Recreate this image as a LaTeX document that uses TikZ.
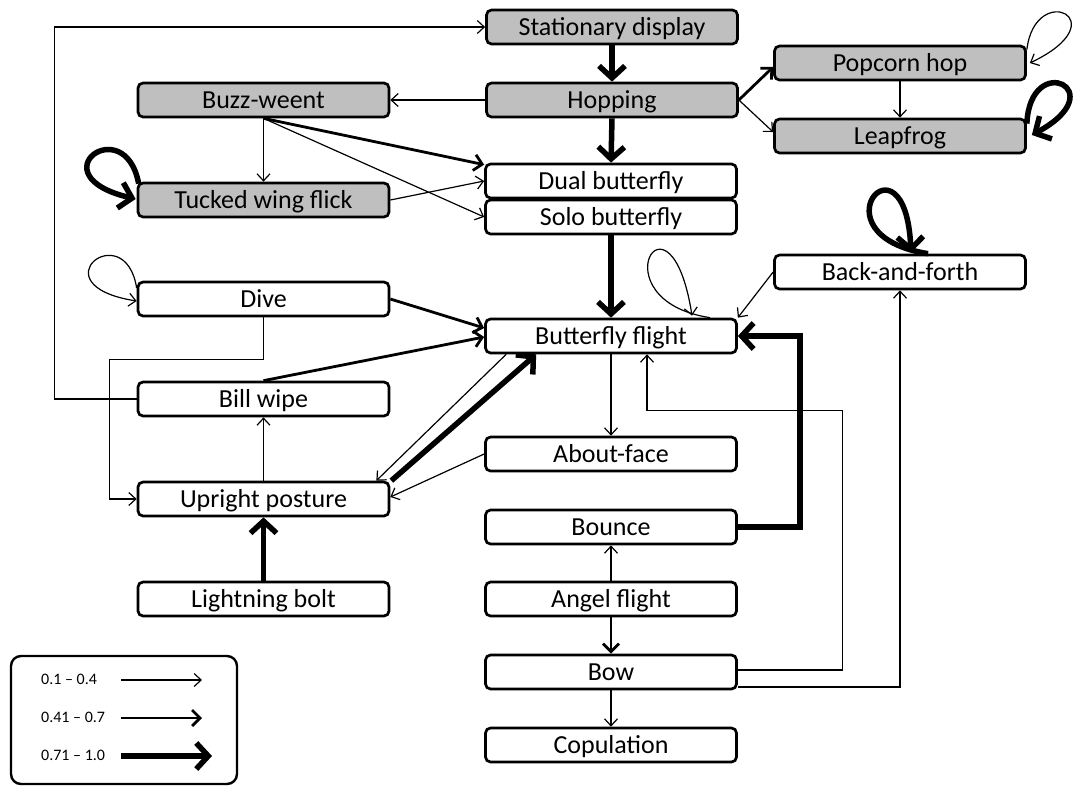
\documentclass[tikz,border=0pt]{standalone}
\usepackage{fontspec}
\setmainfont{Carlito}
\usetikzlibrary{arrows.meta,calc}
\definecolor{boxgrey}{RGB}{191,191,191}
\begin{document}
\begin{tikzpicture}[x=1pt,y=-1pt,
  box/.style={draw=black,line width=2.7pt,rounded corners=5pt,minimum width=251pt,minimum height=34pt,inner sep=0pt,text height=16.6pt,text depth=0pt,font=\fontsize{26}{30}\selectfont,fill=white},
  gbox/.style={box,fill=boxgrey},
  thinar/.style={line width=1.2pt,-{Straight Barb[length=7pt,width=13pt]}},
  medar/.style={line width=2.8pt,-{Straight Barb[length=8pt,width=16pt]}},
  thickar/.style={line width=5.5pt,-{Straight Barb[length=12pt,width=26pt]}},
  legtext/.style={anchor=west,inner sep=0pt,font=\fontsize{16}{19}\selectfont}
]
\useasboundingbox (0,0) rectangle (1078,788);

% nodes
\node[gbox] (sd) at (612,27) {Stationary display};
\node[gbox] (hop) at (612,100) {Hopping};
\node[gbox] (buzz) at (263.5,100) {Buzz-weent};
\node[gbox] (pop) at (900,63) {Popcorn hop};
\node[gbox] (leap) at (900,136) {Leapfrog};
\node[box] (dual) at (611,181) {Dual butterfly};
\node[box] (solo) at (611,217) {Solo butterfly};
\node[gbox] (tuck) at (263.5,200) {Tucked wing flick};
\node[box] (baf) at (900,272) {Back-and-forth};
\node[box] (dive) at (263.5,299) {Dive};
\node[box] (bfl) at (611,336) {Butterfly flight};
\node[box] (bill) at (263.5,399) {Bill wipe};
\node[box] (about) at (611,454) {About-face};
\node[box] (up) at (263.5,499) {Upright posture};
\node[box] (bounce) at (611,527) {Bounce};
\node[box] (angel) at (611,599) {Angel flight};
\node[box] (light) at (263.5,599) {Lightning bolt};
\node[box] (bow) at (611,672) {Bow};
\node[box] (cop) at (611,745) {Copulation};

% straight edges
\draw[thickar] (sd.south) -- (hop.north);
\draw[thickar] (hop.south) -- (dual.north);
\draw[thickar] (solo.south) -- (bfl.north);
\draw[thickar] (light.north) -- (up.south);
\draw[medar] (angel.south) -- (bow.north);
\draw[thinar] (hop.west) -- (buzz.east);
\draw[medar] (hop.east) -- ($(pop.west)+(0,4)$);
\draw[thinar] (hop.east) -- ($(leap.west)+(0,-4)$);
\draw[thinar] (pop.south) -- (leap.north);
\draw[thinar] (buzz.south) -- (tuck.north);
\draw[medar] (buzz.south) -- ($(dual.north west)+(0,2)$);
\draw[thinar] (buzz.south) -- (solo.west);
\draw[thinar] (tuck.east) -- (dual.west);
\draw[medar] (dive.east) -- ($(bfl.west)+(0,-8)$);
\draw[medar] (bill.north) -- ($(bfl.west)+(0,1)$);
\draw[thinar] ($(bfl.south west)+(22,0)$) -- ($(up.north east)+(-14,0)$);
\draw[thickar] ($(up.north east)+(1,0)$) -- ($(bfl.south west)+(52,0)$);
\draw[thinar] (about.west) -- ($(up.east)+(0,-2)$);
\draw[thinar] (up.north) -- (bill.south);
\draw[thinar] (bfl.south) -- (about.north);
\draw[thinar] (angel.north) -- (bounce.south);
\draw[thinar] (bow.south) -- (cop.north);
\draw[thinar] (baf.west) -- (bfl.north east);

% elbow edges
\draw[thinar] (bill.west) -- ++(-82,0) |- (sd.west);
\draw[thinar] (dive.south) -- ++(0,42) -| ($(up.west)+(-27,0)$) -- (up.west);
\draw[thickar] (bounce.east) -- ++(62,0) |- (bfl.east);
\draw[thinar] ($(bow.east)+(0,-2)$) -- ++(105,0) |- ($(bfl.south)+(36,56)$) -- ($(bfl.south)+(36,0)$);
\draw[thinar] ($(bow.east)+(0,15)$) -| (baf.south);

% self loops
\draw[thinar] ($(pop.north east)+(0,5)$) .. controls (1035,-20) and (1120,20) .. ($(pop.east)+(3,0)$);
\draw[thickar] ($(leap.north east)+(0,6)$) .. controls (1030,50) and (1115,90) .. ($(leap.east)+(5,-1)$);
\draw[thickar] ($(baf.north)+(28,0)$) .. controls (810,235) and (905,125) .. ($(baf.north)+(11,-1)$);
\draw[thinar] ($(bfl.north)+(99,0)$) .. controls (595,300) and (670,175) .. ($(bfl.north)+(81,-2)$);
\draw[thickar] ($(tuck.north west)+(2,2)$) .. controls (125,110) and (35,175) .. ($(tuck.west)+(-1,-1)$);
\draw[thinar] ($(dive.west)+(0,-11)$) .. controls (125,215) and (35,285) .. ($(dive.west)+(0,2)$);

% legend
\node[draw,line width=2.4pt,rounded corners=10pt,minimum width=226pt,minimum height=128pt] (legend) at (124,720) {};
\node[legtext] (l1) at (41,679) {0.1 – 0.4};
\node[legtext] (l2) at (41,717) {0.41 – 0.7};
\node[legtext] (l3) at (41,755) {0.71 – 1.0};
\coordinate (a1s) at (121,680); \coordinate (a1e) at (202,680);
\coordinate (a2s) at (121,718); \coordinate (a2e) at (202,718);
\coordinate (a3s) at (121,756); \coordinate (a3e) at (212,756);
\draw[thinar] (a1s) -- (a1e);
\draw[medar] (a2s) -- (a2e);
\draw[thickar] (a3s) -- (a3e);
\end{tikzpicture}
\end{document}
